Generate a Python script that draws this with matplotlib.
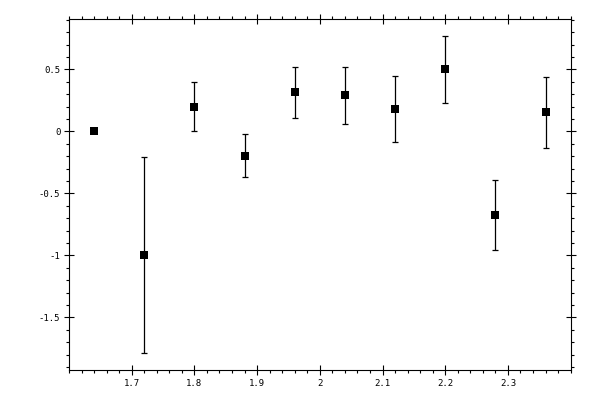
import matplotlib
matplotlib.use('Agg')
import matplotlib.pyplot as plt
from matplotlib.ticker import MultipleLocator, FixedLocator

# values
x = [1.64, 1.72, 1.80, 1.88, 1.96, 2.04, 2.12, 2.20, 2.28, 2.36]
y = [0.0, -1.0, 0.20, -0.195, 0.315, 0.29, 0.177, 0.50, -0.677, 0.153]
err = [0.0, 0.79, 0.195, 0.176, 0.204, 0.232, 0.266, 0.27, 0.283, 0.285]
xticks = [1.7, 1.8, 1.9, 2.0, 2.1, 2.2, 2.3]

plt.rcParams['font.family'] = 'DejaVu Sans Mono'

fig = plt.figure(figsize=(6, 4), dpi=100)
ax = fig.add_axes([0.115, 0.075, 0.836, 0.877])

ax.errorbar(x, y, yerr=err, fmt='none', ecolor='black',
            elinewidth=0.9, capsize=2.1, capthick=0.9)
ax.plot(x, y, 's', color='black', ms=5.4, mew=0)

ax.set_xlim(1.6, 2.4)
ax.set_ylim(-1.925, 0.905)

ax.xaxis.set_major_locator(FixedLocator(xticks))
ax.xaxis.set_minor_locator(MultipleLocator(0.02))
ax.yaxis.set_major_locator(MultipleLocator(0.5))
ax.yaxis.set_minor_locator(MultipleLocator(0.1))
ax.xaxis.set_major_formatter(lambda v, p: f'{v:g}')
ax.yaxis.set_major_formatter(lambda v, p: f'{v:g}')

ax.tick_params(which='both', top=True, right=True, width=0.8, labelsize=6.5)
ax.tick_params(which='major', direction='inout', length=6.5, pad=3)
ax.tick_params(which='minor', direction='out', length=2.4)

for s in ax.spines.values():
    s.set_linewidth(0.8)

fig.savefig('out.png', dpi=100)
